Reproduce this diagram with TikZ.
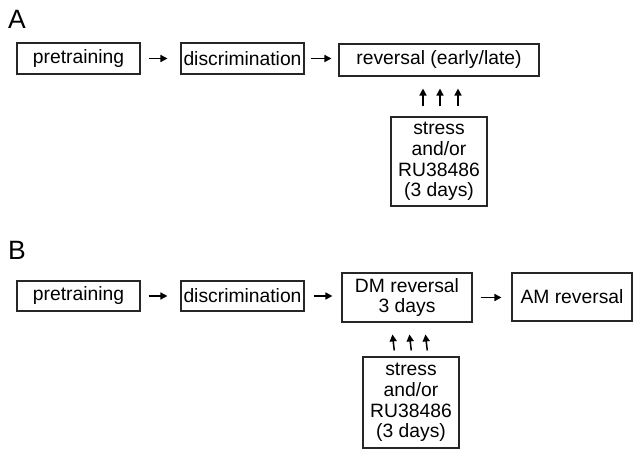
\documentclass[tikz,border=0pt]{standalone}
\usepackage{fontspec}
\setmainfont{Liberation Sans}
\usetikzlibrary{arrows.meta}
\begin{document}
\begin{tikzpicture}[x=1pt,y=-1pt,
  box/.style={draw=black!85, line width=1.1pt, inner sep=0pt, align=center,
    font=\fontsize{19.3}{20.7}\selectfont},
  arr/.style={line width=1.5pt, -{Triangle[length=7pt,width=7pt]}},
  panel/.style={anchor=base west, inner sep=0pt, font=\fontsize{26.5}{30}\selectfont}]
\useasboundingbox (0,0) rectangle (641,457);
% Panel A
\node[panel] (lA) at (8,29) {A};
\node[box, minimum width=123pt, minimum height=31pt] (pa) at (78.5,58.5) {pretraining};
\node[box, minimum width=123pt, minimum height=31pt] (da) at (242.5,58.5) {discrimination};
\node[box, minimum width=200pt, minimum height=32pt] (ra) at (439,60) {reversal (early/late)};
\node[box, minimum width=96pt, minimum height=89pt] (sa) at (439,161.5) {stress\\and/or\\RU38486\\(3 days)};
\draw[arr, shorten <=8pt, shorten >=13pt] (pa.east) -- (pa.east -| da.west);
\draw[arr, shorten <=6pt, shorten >=7pt] (da.east) -- (da.east -| ra.west);
\foreach \dx in {-16,1,19}{
  \draw[arr, shorten <=10pt, shorten >=12pt] ([xshift=\dx pt]sa.north) -- ([xshift=\dx pt]ra.south);
}
% Panel B
\node[panel] (lB) at (8,260) {B};
\node[box, minimum width=123pt, minimum height=30pt] (pb) at (78.5,296) {pretraining};
\node[box, minimum width=123pt, minimum height=30pt] (db) at (242.5,296) {discrimination};
\node[box, minimum width=130pt, minimum height=49pt] (rb) at (407,297.5) {DM reversal\\3 days};
\node[box, minimum width=120pt, minimum height=48pt] (ab) at (572,297) {AM reversal};
\node[box, minimum width=96pt, minimum height=91pt] (sb) at (411,402.5) {stress\\and/or\\RU38486\\(3 days)};
\draw[arr, shorten <=8pt, shorten >=13pt] (pb.east) -- (pb.east -| db.west);
\draw[arr, shorten <=9pt, shorten >=9pt] (db.east) -- (db.east -| rb.west);
\draw[arr, shorten <=8pt, shorten >=10pt] (rb.east) -- (rb.east -| ab.west);
\foreach \dx in {-16,1,17}{
  \draw[arr, shorten <=6pt, shorten >=12pt] ([xshift=\dx pt]sb.north) -- ([xshift=\dx pt]rb.south);
}
\end{tikzpicture}
\end{document}
